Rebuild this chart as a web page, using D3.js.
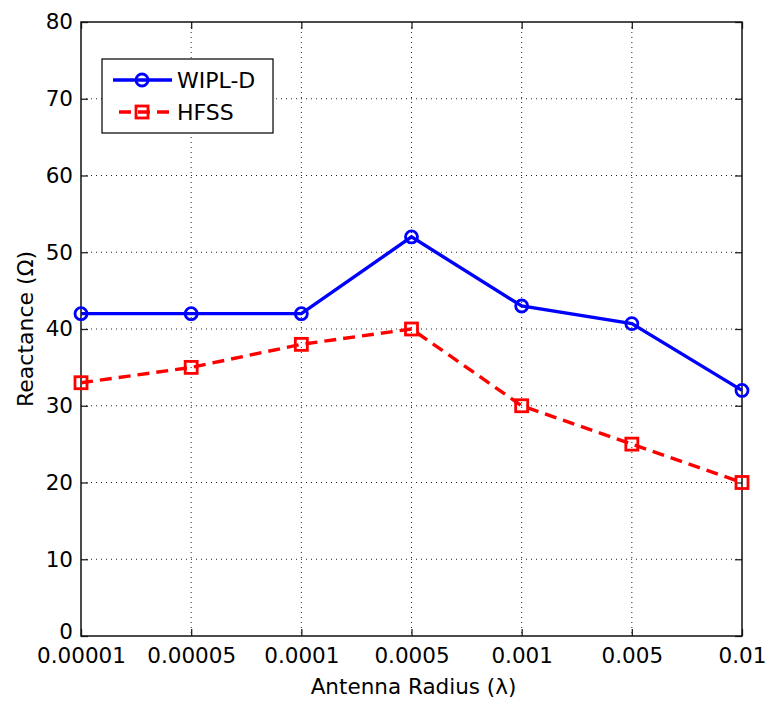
<!DOCTYPE html>
<html>
<head>
<meta charset="utf-8">
<script src="https://cdn.jsdelivr.net/npm/d3@7/dist/d3.min.js"></script>
<style>
  html, body { margin: 0; padding: 0; background: #fff; }
  svg { display: block; }
  text { font-family: "DejaVu Sans", Arial, sans-serif; fill: #000; }
</style>
</head>
<body>
<svg id="chart" width="769" height="704"></svg>
<script>
// Antenna radius (in wavelengths) and reactance from the two solvers
const radii = ["0.00001", "0.00005", "0.0001", "0.0005", "0.001", "0.005", "0.01"];
const wiplD = [42, 42, 42, 52, 43, 40.7, 32];
const hfss  = [33, 35, 38, 40, 30, 25, 20];
const yTicks = [0, 10, 20, 30, 40, 50, 60, 70, 80];

const svg = d3.select("#chart");
const m = { left: 81, right: 742, top: 22, bottom: 636 };
const W = m.right - m.left, H = m.bottom - m.top;
const FONT = "'DejaVu Sans', Arial, sans-serif";

const x = d3.scalePoint().domain(radii).range([m.left, m.right]).padding(0);
const y = d3.scaleLinear().domain([0, 80]).range([m.bottom, m.top]);

// dotted grid
const grid = svg.append("g");
grid.selectAll("line.gx").data(radii.slice(1, -1)).enter().append("line")
  .attr("x1", d => x(d)).attr("x2", d => x(d))
  .attr("y1", m.top).attr("y2", m.bottom)
  .attr("stroke", "#222").attr("stroke-width", 1).attr("stroke-dasharray", "1,4");
grid.selectAll("line.gy").data(yTicks.slice(1, -1)).enter().append("line")
  .attr("y1", d => y(d)).attr("y2", d => y(d))
  .attr("x1", m.left).attr("x2", m.right)
  .attr("stroke", "#222").attr("stroke-width", 1).attr("stroke-dasharray", "1,4");

// axes with inward ticks, mirrored on top/right
const fs = "21.5px";
const xAxis = svg.append("g").attr("transform", `translate(0,${m.bottom})`)
  .call(d3.axisBottom(x).tickSizeInner(-7).tickSizeOuter(0).tickPadding(12));
const yAxis = svg.append("g").attr("transform", `translate(${m.left},0)`)
  .call(d3.axisLeft(y).tickValues(yTicks).tickSizeInner(-7).tickSizeOuter(0).tickPadding(8));
const xTop = svg.append("g").attr("transform", `translate(0,${m.top})`)
  .call(d3.axisTop(x).tickSizeInner(-7).tickSizeOuter(0).tickFormat(""));
const yRight = svg.append("g").attr("transform", `translate(${m.right},0)`)
  .call(d3.axisRight(y).tickValues(yTicks).tickSizeInner(-7).tickSizeOuter(0).tickFormat(""));
[xAxis, yAxis, xTop, yRight].forEach(g => {
  g.select(".domain").remove();
  g.selectAll("line").attr("stroke", "#222").attr("stroke-width", 1.3);
  g.selectAll("text").attr("font-size", fs).attr("font-family", FONT).attr("fill", "#000");
});
xAxis.selectAll("text").attr("dy", "0.71em");
// lift the bottom "0" clear of the x tick labels
yAxis.selectAll(".tick").filter(d => d === 0).select("text").attr("dy", "0.1em");

// frame
svg.append("rect").attr("x", m.left).attr("y", m.top).attr("width", W).attr("height", H)
  .attr("fill", "none").attr("stroke", "#111").attr("stroke-width", 1.5);

// series
const line = d3.line().x((d, i) => x(radii[i])).y(d => y(d));
const blue = "#0000ff", red = "#ff0000";

svg.append("path").datum(wiplD).attr("d", line)
  .attr("fill", "none").attr("stroke", blue).attr("stroke-width", 3.4);
svg.append("path").datum(hfss).attr("d", line)
  .attr("fill", "none").attr("stroke", red).attr("stroke-width", 3.4)
  .attr("stroke-dasharray", "12,7");

svg.selectAll("circle.w").data(wiplD).enter().append("circle")
  .attr("cx", (d, i) => x(radii[i])).attr("cy", d => y(d)).attr("r", 6)
  .attr("fill", "none").attr("stroke", blue).attr("stroke-width", 2.8);
svg.selectAll("rect.h").data(hfss).enter().append("rect")
  .attr("x", (d, i) => x(radii[i]) - 6).attr("y", d => y(d) - 6)
  .attr("width", 12).attr("height", 12)
  .attr("fill", "none").attr("stroke", red).attr("stroke-width", 2.8);

// legend
const lg = svg.append("g");
lg.append("rect").attr("x", 102).attr("y", 59).attr("width", 171).attr("height", 74)
  .attr("fill", "#fff").attr("stroke", "#111").attr("stroke-width", 1.3);
const items = [
  { name: "WIPL-D", color: blue, dash: null, shape: "circle", yy: 80 },
  { name: "HFSS", color: red, dash: "12,7", shape: "square", yy: 112 }
];
items.forEach(it => {
  lg.append("line").attr("x1", it.dash ? 119 : 113).attr("x2", 172).attr("y1", it.yy).attr("y2", it.yy)
    .attr("stroke", it.color).attr("stroke-width", 3.4)
    .attr("stroke-dasharray", it.dash);
  if (it.shape === "circle") {
    lg.append("circle").attr("cx", 142).attr("cy", it.yy).attr("r", 6)
      .attr("fill", "none").attr("stroke", it.color).attr("stroke-width", 2.8);
  } else {
    lg.append("rect").attr("x", 136).attr("y", it.yy - 6).attr("width", 12).attr("height", 12)
      .attr("fill", "none").attr("stroke", it.color).attr("stroke-width", 2.8);
  }
  lg.append("text").attr("x", 177).attr("y", it.yy).attr("dy", "0.36em")
    .attr("font-size", "22px").text(it.name);
});

// axis titles
svg.append("text").attr("x", (m.left + m.right) / 2 + 2).attr("y", 694)
  .attr("text-anchor", "middle").attr("font-size", fs).text("Antenna Radius (λ)");
svg.append("text").attr("transform", `translate(33,${(m.top + m.bottom) / 2}) rotate(-90)`)
  .attr("text-anchor", "middle").attr("font-size", "22px").text("Reactance (Ω)");
</script>
</body>
</html>
